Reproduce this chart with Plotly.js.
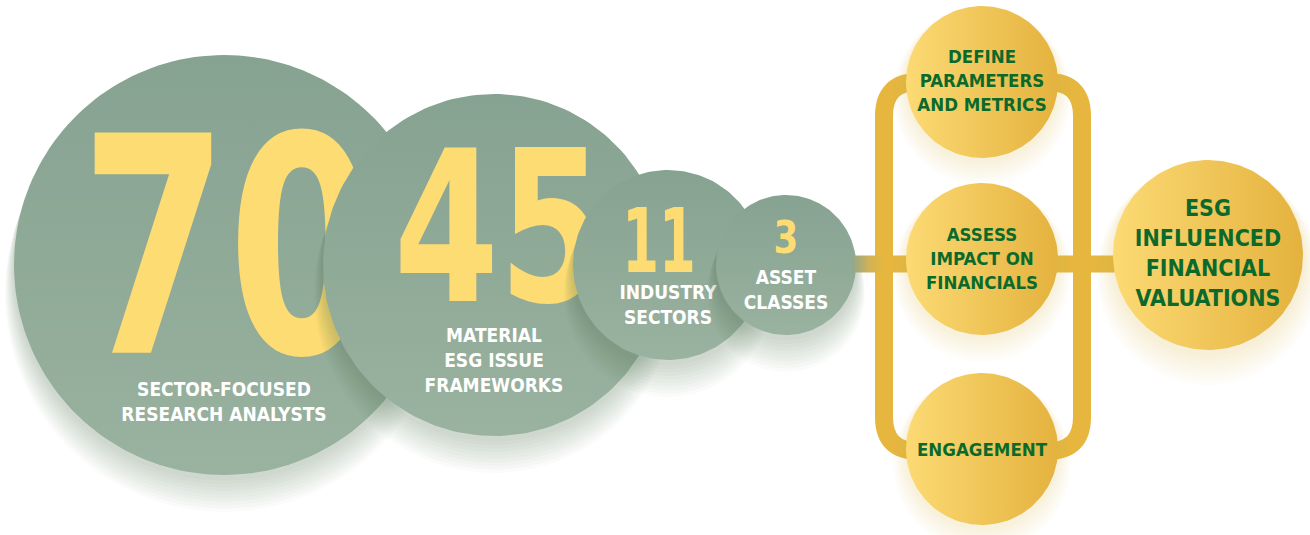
<!DOCTYPE html>
<html>
<head>
<meta charset="utf-8">
<script src="https://cdn.plot.ly/plotly-3.0.1.min.js"></script>
<style>
  html, body { margin: 0; padding: 0; background: #ffffff; }
  #chart { width: 1310px; height: 535px; }
</style>
</head>
<body>
<div id="chart"></div>
<script>
// ---------- DATA ----------
const statValues = [70, 45, 11, 3];
const statLabels = [
  'SECTOR-FOCUSED<br>RESEARCH ANALYSTS',
  'MATERIAL<br>ESG ISSUE<br>FRAMEWORKS',
  'INDUSTRY<br>SECTORS',
  'ASSET<br>CLASSES'
];
const processSteps = [
  'DEFINE<br>PARAMETERS<br>AND METRICS',
  'ASSESS<br>IMPACT ON<br>FINANCIALS',
  'ENGAGEMENT'
];
const outcomeLabels = ['ESG<br>INFLUENCED<br>FINANCIAL<br>VALUATIONS'];

// ---------- LAYOUT GEOMETRY (pixel space of the canvas) ----------
const statGeom = [
  { cx: 224, cy: 265, r: 210, numY: 244, numSize: 302, numX: 228, squeeze: 0.78, labY: 402, labSize: 19 },
  { cx: 494, cy: 265, r: 171, numY: 225, numSize: 210, numX: 499, squeeze: 0.80, labY: 360, labSize: 19 },
  { cx: 668, cy: 265, r: 95,  numY: 240, numSize: 89,  numX: 659, squeeze: 0.66, labY: 305, labSize: 19 },
  { cx: 786, cy: 265, r: 70,  numY: 237, numSize: 45,  numX: 786, squeeze: 0.88, labY: 290, labSize: 19 }
];
const stepGeom = [
  { cx: 982, cy: 82,  r: 76, ty: 80 },
  { cx: 982, cy: 259, r: 76, ty: 258 },
  { cx: 982, cy: 449, r: 76, ty: 449 }
];
const outcomeGeom = { cx: 1208, cy: 255, r: 95, ty: 253 };
const track = { x0: 884, x1: 1082, y0: 82, y1: 451, rad: 34, w: 18 };
const barY = 264, barW = 17;

const FONT = '"DejaVu Sans Condensed", "DejaVu Sans", sans-serif';
const GREEN_DARK = '#86a290', GREEN_LIGHT = '#9ab2a0';
const GOLD_L = '#fcda74', GOLD_R = '#e4b23e';
const TRACK = '#e6b63e';
const NUM_COL = '#fddc74';
const DARK_GREEN = '#0b6a2b';
const BASE_SHIFT = 0.11; // vertical correction of text anchor (fraction of font size)

function circlePts(cx, cy, r) {
  const xs = [], ys = [];
  for (let i = 0; i <= 180; i++) {
    const a = i / 180 * 2 * Math.PI;
    xs.push(cx + r * Math.cos(a));
    ys.push(cy + r * Math.sin(a));
  }
  return { xs, ys };
}
function filledCircle(cx, cy, r, opts) {
  const p = circlePts(cx, cy, r);
  const t = {
    type: 'scatter', mode: 'lines', x: p.xs, y: p.ys, fill: 'toself',
    line: { width: 0, color: 'rgba(0,0,0,0)' }, hoverinfo: 'skip', showlegend: false
  };
  if (opts.gradient) t.fillgradient = opts.gradient;
  else t.fillcolor = opts.color;
  return t;
}
function shadowLayers(cx, cy, r, rgb, n, alpha, dyStep, drStep) {
  const out = [];
  for (let k = n; k >= 1; k--) {
    out.push(filledCircle(cx, cy + 2 + k * dyStep, r + k * drStep, { color: 'rgba(' + rgb + ',' + alpha + ')' }));
  }
  return out;
}
function textTrace(x, y, txt, size, color, name) {
  return {
    type: 'scatter', mode: 'text', x: [x], y: [y + BASE_SHIFT * size], text: [txt],
    name: name || '',
    textposition: 'middle center',
    textfont: { family: FONT, size: size, color: color, weight: 'bold' },
    hoverinfo: 'skip', showlegend: false, cliponaxis: false
  };
}

const traces = [];
const numberTraceIdx = [];

// green stat circles
statValues.forEach((v, i) => {
  const g = statGeom[i];
  shadowLayers(g.cx, g.cy, g.r, '70,100,80', 10, 0.028, 2.6, 0.9).forEach(t => traces.push(t));
  traces.push(filledCircle(g.cx, g.cy, g.r, {
    gradient: { type: 'vertical', colorscale: [[0, GREEN_LIGHT], [1, GREEN_DARK]] }
  }));
  numberTraceIdx.push(traces.length);
  traces.push(textTrace(g.numX, g.numY, String(v), g.numSize, NUM_COL, 'num' + i));
  traces.push(textTrace(g.cx, g.labY, statLabels[i], g.labSize, '#ffffff'));
});

// connector from last stat circle to the track (green -> gold)
(function () {
  const last = statGeom[statGeom.length - 1];
  const xa = last.cx + last.r - 4, xb = track.x0;
  traces.push({
    type: 'scatter', mode: 'lines',
    x: [xa, xb, xb, xa, xa],
    y: [barY - barW / 2, barY - barW / 2, barY + barW / 2, barY + barW / 2, barY - barW / 2],
    fill: 'toself', line: { width: 0, color: 'rgba(0,0,0,0)' },
    fillgradient: { type: 'horizontal', colorscale: [[0, '#93a68c'], [0.55, '#d2b356'], [1, TRACK]] },
    hoverinfo: 'skip', showlegend: false
  });
})();

// gold process circles
const goldGrad = { type: 'horizontal', colorscale: [[0, GOLD_L], [1, GOLD_R]] };
processSteps.forEach((s, i) => {
  const g = stepGeom[i];
  shadowLayers(g.cx, g.cy, g.r, '225,185,90', 7, 0.03, 1.8, 1.8).forEach(t => traces.push(t));
});
processSteps.forEach((s, i) => {
  const g = stepGeom[i];
  traces.push(filledCircle(g.cx, g.cy, g.r, { gradient: goldGrad }));
  traces.push(textTrace(g.cx, g.ty, s, 18.5, DARK_GREEN));
});
// outcome circle
shadowLayers(outcomeGeom.cx, outcomeGeom.cy, outcomeGeom.r, '225,185,90', 8, 0.03, 2.2, 2.0).forEach(t => traces.push(t));
traces.push(filledCircle(outcomeGeom.cx, outcomeGeom.cy, outcomeGeom.r, { gradient: goldGrad }));
traces.push(textTrace(outcomeGeom.cx, outcomeGeom.ty, outcomeLabels[0], 23, DARK_GREEN));

// track (rounded rectangle) and horizontal bar as shapes below traces
const T = track, R = T.rad;
const trackPath =
  'M ' + (T.x0 + R) + ' ' + T.y0 +
  ' L ' + (T.x1 - R) + ' ' + T.y0 +
  ' Q ' + T.x1 + ' ' + T.y0 + ' ' + T.x1 + ' ' + (T.y0 + R) +
  ' L ' + T.x1 + ' ' + (T.y1 - R) +
  ' Q ' + T.x1 + ' ' + T.y1 + ' ' + (T.x1 - R) + ' ' + T.y1 +
  ' L ' + (T.x0 + R) + ' ' + T.y1 +
  ' Q ' + T.x0 + ' ' + T.y1 + ' ' + T.x0 + ' ' + (T.y1 - R) +
  ' L ' + T.x0 + ' ' + (T.y0 + R) +
  ' Q ' + T.x0 + ' ' + T.y0 + ' ' + (T.x0 + R) + ' ' + T.y0 + ' Z';

const shapes = [
  { type: 'path', xref: 'x', yref: 'y', path: trackPath, line: { color: TRACK, width: T.w }, fillcolor: 'rgba(0,0,0,0)', layer: 'below' },
  { type: 'line', xref: 'x', yref: 'y', x0: T.x0, x1: outcomeGeom.cx - outcomeGeom.r + 4, y0: barY, y1: barY, line: { color: TRACK, width: barW }, layer: 'below' }
];

const layout = {
  width: 1310, height: 535,
  margin: { l: 0, r: 0, t: 0, b: 0, pad: 0 },
  paper_bgcolor: '#ffffff', plot_bgcolor: '#ffffff',
  xaxis: { range: [0, 1310], visible: false, fixedrange: true },
  yaxis: { range: [535, 0], visible: false, fixedrange: true },
  shapes: shapes,
  showlegend: false
};

Plotly.newPlot('chart', traces, layout, { staticPlot: true, displayModeBar: false }).then(gd => {
  // compress the big condensed numerals horizontally about their own anchor
  const groups = gd.querySelectorAll('.scatterlayer .trace');
  numberTraceIdx.forEach((ti, i) => {
    const grp = groups[ti];
    if (!grp) return;
    grp.querySelectorAll('.textpoint text').forEach(t => {
      const x = parseFloat(t.getAttribute('x'));
      const s = statGeom[i].squeeze;
      t.setAttribute('transform', 'translate(' + x + ',0) scale(' + s + ',1) translate(' + (-x) + ',0)');
    });
  });
});
</script>
</body>
</html>
